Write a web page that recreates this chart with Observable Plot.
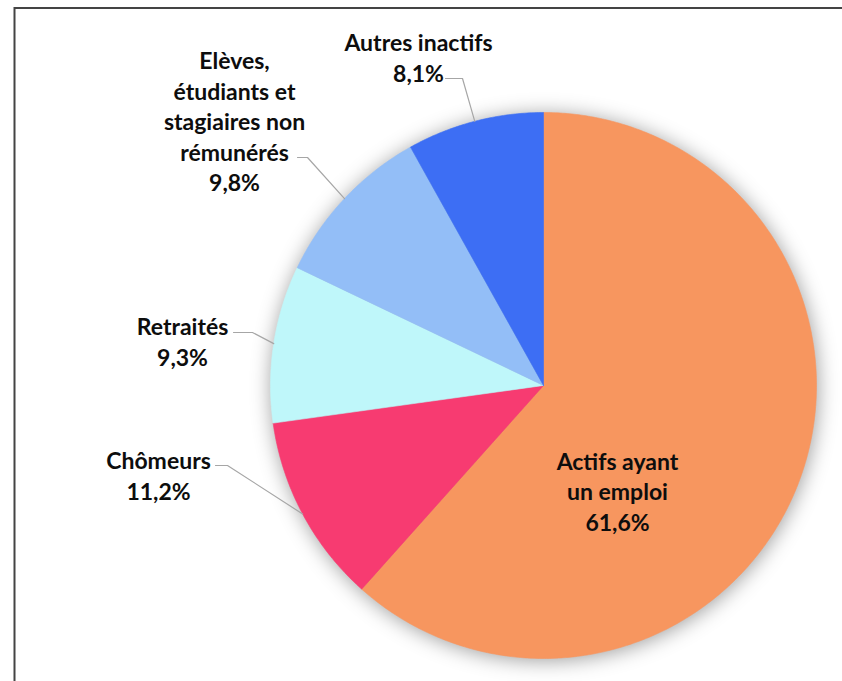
<!DOCTYPE html>
<html>
<head>
<meta charset="utf-8">
<script src="https://cdn.jsdelivr.net/npm/d3@7"></script>
<script src="https://cdn.jsdelivr.net/npm/@observablehq/plot@0.6"></script>
<style>
  html, body { margin: 0; padding: 0; background: #fff; }
  #chart svg { display: block; }
</style>
</head>
<body>
<div id="chart"></div>
<script>
// ---- data ----
const categories = ["Actifs ayant un emploi", "Chômeurs", "Retraités", "Elèves, étudiants et stagiaires non rémunérés", "Autres inactifs"];
const labelTexts = ["Actifs ayant\nun emploi", "Chômeurs", "Retraités", "Elèves,\nétudiants et\nstagiaires non\nrémunérés", "Autres inactifs"];
const values = [61.6, 11.2, 9.3, 9.8, 8.1];
const valueLabels = ["61,6%", "11,2%", "9,3%", "9,8%", "8,1%"];

// ---- style / layout ----
const colors = ["#F7965F", "#F73B71", "#BFF7FA", "#93BEF7", "#3D6EF4"];
const W = 842, H = 681;
const cx = 543, cy = 385, R = 273;
// label block centre, leader start point, elbow x (null = inside label)
const labelLayout = [
  {lx: 617, ly: 490, sx: null},
  {lx: 158, ly: 474, sx: 215, sy: 465, ex: 227},
  {lx: 182, ly: 340, sx: 233, sy: 332, ex: 252},
  {lx: 234, ly: 120, sx: 297, sy: 157, ex: 307},
  {lx: 418, ly: 56,  sx: 445, sy: 78,  ex: 462}
];

// ---- geometry from data ----
const pie = d3.pie().sort(null).value(d => d)(values);
const toXY = (a, r) => [cx + r * Math.sin(a), cy - r * Math.cos(a)];
const slicePts = [];
pie.forEach((p, i) => {
  const cat = categories[i];
  slicePts.push({cat, x: cx, y: cy});
  const n = Math.max(4, Math.ceil((p.endAngle - p.startAngle) / (Math.PI / 360)));
  for (let k = 0; k <= n; k++) {
    const a = p.startAngle + (p.endAngle - p.startAngle) * k / n;
    const [x, y] = toXY(a, R);
    slicePts.push({cat, x, y});
  }
  slicePts.push({cat, x: cx, y: cy});
});

const leaders = [];
const labels = [];
pie.forEach((p, i) => {
  const L = labelLayout[i];
  labels.push({x: L.lx, y: L.ly, text: labelTexts[i] + "\n" + valueLabels[i]});
  if (L.sx != null) {
    const mid = (p.startAngle + p.endAngle) / 2;
    const [mx, my] = toXY(mid, R);
    leaders.push({id: i, x: L.sx, y: L.sy});
    leaders.push({id: i, x: L.ex, y: L.sy});
    leaders.push({id: i, x: mx, y: my});
  }
});

const chart = Plot.plot({
  width: W, height: H,
  margin: 0,
  x: {domain: [0, W], range: [0, W], axis: null},
  y: {domain: [0, H], range: [0, H], axis: null},
  color: {domain: categories, range: colors},
  style: {fontFamily: "Lato, 'Open Sans', sans-serif", background: "#fff"},
  marks: [
    Plot.line(slicePts, {x: "x", y: "y", z: "cat", fill: "cat", stroke: "cat", strokeWidth: 0.6, curve: "linear"}),
    Plot.line(leaders, {x: "x", y: "y", z: "id", stroke: "#A6A6A6", strokeWidth: 1.2}),
    Plot.text(labels, {x: "x", y: "y", text: "text", fontSize: 23, fontWeight: 700, fill: "#0d0d0d", lineHeight: 1.33, textAnchor: "middle", lineAnchor: "middle"}),
    Plot.ruleY([7.5], {x1: 14, x2: W, stroke: "#444", strokeWidth: 2}),
    Plot.ruleX([14], {y1: 7, y2: H, stroke: "#444", strokeWidth: 2})
  ]
});
document.getElementById("chart").appendChild(chart);
// soft shadow around the pie
const pieG = chart.querySelector('g[aria-label="line"]');
if (pieG) pieG.style.filter = "drop-shadow(1px 2px 10px rgba(0,0,0,0.38))";
</script>
</body>
</html>
